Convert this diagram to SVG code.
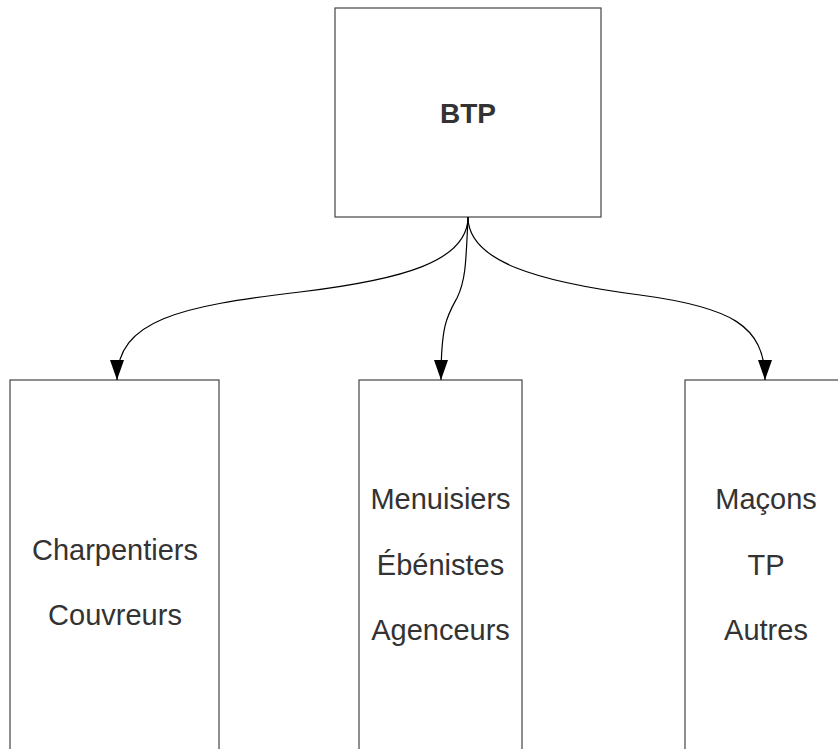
<svg xmlns="http://www.w3.org/2000/svg" width="838" height="749" viewBox="0 0 838 749">
<style>
.box{fill:#fff;stroke:#444;stroke-width:1.2}
.t{font-family:"Liberation Sans",Arial,sans-serif;font-size:29px;fill:#333;text-anchor:middle}
.tb{font-family:"Liberation Sans",Arial,sans-serif;font-size:28px;font-weight:bold;fill:#333;text-anchor:middle}
.edge{fill:none;stroke:#000;stroke-width:1.2}
</style>
<defs>
<marker id="arr" markerUnits="userSpaceOnUse" markerWidth="22" markerHeight="16" refX="20" refY="7" orient="auto">
<path d="M0,0 L20,7 L0,14 z" fill="#000"/>
</marker>
</defs>
<rect width="838" height="749" fill="#fff"/>
<g id="btp">
<rect class="box" x="335" y="8" width="266" height="209"/>
<text class="tb" x="468" y="123">BTP</text>
</g>
<g id="charpentiers">
<rect class="box" x="10" y="380" width="209" height="400"/>
<text class="t" x="115" y="560">Charpentiers</text>
<text class="t" x="115" y="625">Couvreurs</text>
</g>
<g id="menuisiers">
<rect class="box" x="359" y="380" width="163" height="400"/>
<text class="t" x="440.5" y="509">Menuisiers</text>
<text class="t" x="440.5" y="575">Ébénistes</text>
<text class="t" x="440.5" y="640">Agenceurs</text>
</g>
<g id="macons">
<rect class="box" x="685" y="380" width="163" height="400"/>
<text class="t" x="766" y="509">Maçons</text>
<text class="t" x="766" y="575">TP</text>
<text class="t" x="766" y="640">Autres</text>
</g>
<g id="connectors">
<path class="edge" marker-end="url(#arr)" d="M468,217 C468,262 400,280 300,292 C180,306 117,320 117,380"/>
<path class="edge" marker-end="url(#arr)" d="M468,217 C466,260 466,280 457,298 C447,316 441,325 441,380"/>
<path class="edge" marker-end="url(#arr)" d="M468,217 C468,262 540,282 640,295 C730,307 765,325 765,380"/>
</g>
</svg>
